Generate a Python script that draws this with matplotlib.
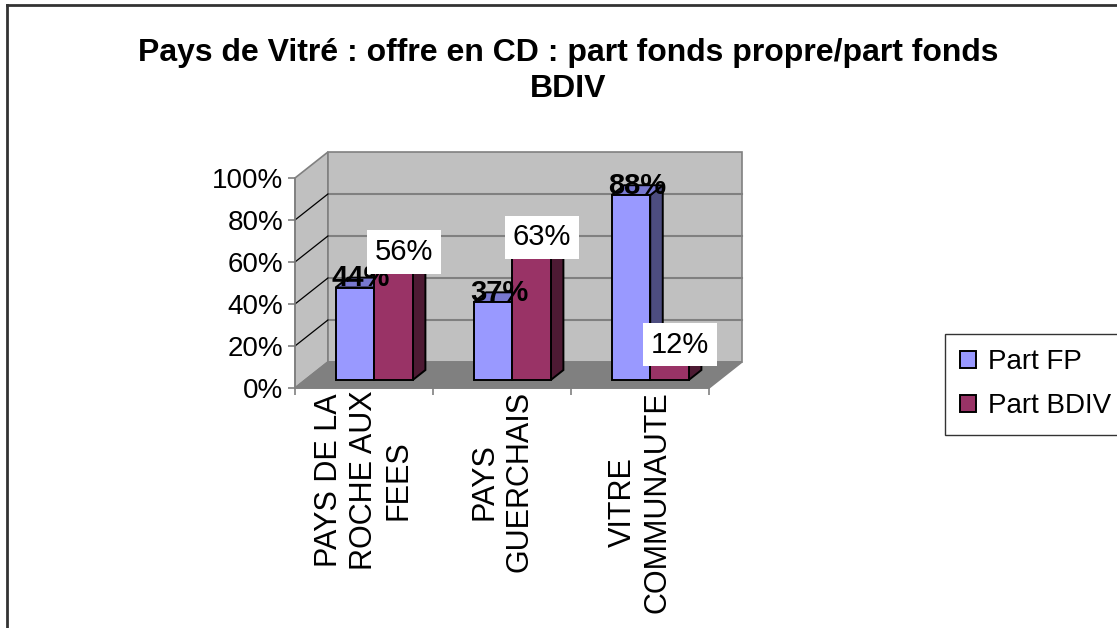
import numpy as np
import matplotlib.pyplot as plt
from matplotlib.patches import Polygon, Patch
from matplotlib.lines import Line2D

plt.rcParams['font.family'] = ['Liberation Sans', 'DejaVu Sans']

# data
categories = ['PAYS DE LA\nROCHE AUX\nFEES', 'PAYS\nGUERCHAIS', 'VITRE\nCOMMUNAUTE']
part_fp = [44, 37, 88]
part_bdiv = [56, 63, 12]
series_names = ['Part FP', 'Part BDIV']
y_ticks = [0, 20, 40, 60, 80, 100]
title = 'Pays de Vitré : offre en CD : part fonds propre/part fonds\nBDIV'

# face colours (front, top, side) per series
fp_faces = ('#9999ff', '#7878d0', '#4d4d80')
bdiv_faces = ('#993366', '#7a2952', '#4d1a33')

W, H = 1117, 628
fig = plt.figure(figsize=(W / 100, H / 100), dpi=100)
ax = fig.add_axes([295 / W, 1 - 388 / H, 414 / W, 210 / H])
n = len(categories)
ax.set_xlim(0, n)
ax.set_ylim(0, 100)
ax.patch.set_visible(False)

# fake 3D depth, in data units
dx, dy = 0.239, 12.4
f0, f1 = 0.31, 0.69   # bars sit between these depth fractions
bw = 0.28             # width of one bar

wall = '#c0c0c0'
edge = '#808080'

# walls and floor
ax.add_patch(Polygon([(0, 0), (0, 100), (dx, 100 + dy), (dx, dy)],
                     closed=True, fc=wall, ec=edge, lw=1.2, clip_on=False, zorder=1))
ax.add_patch(Polygon([(dx, dy), (n + dx, dy), (n + dx, 100 + dy), (dx, 100 + dy)],
                     closed=True, fc=wall, ec=edge, lw=1.2, clip_on=False, zorder=1))
ax.add_patch(Polygon([(0, 0), (n, 0), (n + dx, dy), (dx, dy)],
                     closed=True, fc='#808080', ec=edge, lw=1.2, clip_on=False, zorder=1))
for v in y_ticks[1:-1]:
    ax.plot([dx, n + dx], [v + dy, v + dy], color=edge, lw=1.5, clip_on=False, zorder=2)
    ax.plot([0, dx], [v, v + dy], color='black', lw=0.9, clip_on=False, zorder=2)


def bar3d(x0, h, faces, z):
    ox0, oy0 = f0 * dx, f0 * dy
    ox1, oy1 = f1 * dx, f1 * dy
    front = [(x0 + ox0, oy0), (x0 + bw + ox0, oy0), (x0 + bw + ox0, oy0 + h), (x0 + ox0, oy0 + h)]
    top = [(x0 + ox0, oy0 + h), (x0 + bw + ox0, oy0 + h), (x0 + bw + ox1, oy1 + h), (x0 + ox1, oy1 + h)]
    side = [(x0 + bw + ox0, oy0), (x0 + bw + ox1, oy1), (x0 + bw + ox1, oy1 + h), (x0 + bw + ox0, oy0 + h)]
    for pts, c in ((side, faces[2]), (top, faces[1]), (front, faces[0])):
        ax.add_patch(Polygon(pts, closed=True, fc=c, ec='black', lw=1.4,
                             joinstyle='miter', clip_on=False, zorder=z))
    # centre of the top face, where the value label goes
    return x0 + bw / 2 + (ox0 + ox1) / 2, h + (oy0 + oy1) / 2


fp_tops, bdiv_tops = [], []
for i in range(n):
    x0 = i + 0.5 - bw
    fp_tops.append(bar3d(x0, part_fp[i], fp_faces, 3 + 2 * i))
    bdiv_tops.append(bar3d(x0 + bw, part_bdiv[i], bdiv_faces, 4 + 2 * i))

for (x, y), v in zip(fp_tops, part_fp):
    ax.text(x, y + 2, f'{v}%', ha='center', va='center', fontsize=21,
            fontweight='bold', zorder=20, clip_on=False)
for (x, y), v in zip(bdiv_tops, part_bdiv):
    ax.text(x + 0.03, y + 2.5, f'{v}%', ha='center', va='center', fontsize=21,
            zorder=21, clip_on=False,
            bbox=dict(boxstyle='square,pad=0.27', fc='white', ec='none'))

# axes
for s in ('top', 'right'):
    ax.spines[s].set_visible(False)
for s in ('left', 'bottom'):
    ax.spines[s].set_color(edge)
    ax.spines[s].set_linewidth(1.2)
    ax.spines[s].set_zorder(2.5)
ax.set_yticks(y_ticks)
ax.set_yticklabels([f'{v}%' for v in y_ticks])
ax.tick_params(axis='y', length=5, width=1.2, color=edge, pad=3.5, labelsize=20)
ax.set_xticks(np.arange(n + 1), minor=True)
ax.set_xticks(np.arange(n) + 0.5)
ax.set_xticklabels(categories, rotation=90, multialignment='center', linespacing=1.2)
ax.tick_params(axis='x', which='major', length=0, pad=2, labelsize=22)
ax.tick_params(axis='x', which='minor', length=5, width=1.2, color=edge)

fig.text(568 / W, 1 - 71 / H, title, ha='center', va='center', fontsize=23,
         fontweight='bold', linespacing=1.26)

handles = [Patch(fc=fp_faces[0], ec='black', lw=1.4),
           Patch(fc=bdiv_faces[0], ec='black', lw=1.4)]
leg = fig.legend(handles, series_names, loc='upper left', bbox_to_anchor=(945 / W, 1 - 334 / H),
                 fontsize=20, frameon=True, fancybox=False, edgecolor='black',
                 handlelength=0.55, handleheight=0.55, handletextpad=0.45,
                 borderaxespad=0, borderpad=0.55, labelspacing=0.65)
leg.get_frame().set_linewidth(1.0)

# chart area border (only top and left are visible)
fig.add_artist(Line2D([7 / W, 7 / W], [0, 1 - 5 / H], color='#333333', lw=2))
fig.add_artist(Line2D([7 / W, 1], [1 - 5 / H, 1 - 5 / H], color='#333333', lw=2))

fig.savefig('out.png', dpi=100)
